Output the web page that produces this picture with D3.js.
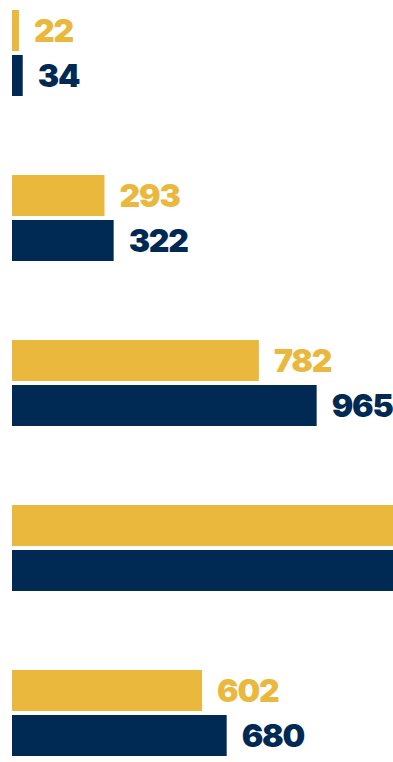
<!DOCTYPE html>
<html>
<head>
<meta charset="utf-8">
<script src="https://cdn.jsdelivr.net/npm/d3@7"></script>
<style>
  html, body { margin: 0; padding: 0; background: #fff; overflow: hidden; }
  svg { display: block; }
</style>
</head>
<body>
<svg id="chart" width="393" height="762"></svg>
<script>
// Grouped horizontal bars: two series per group, value printed at bar end
const categories = ["Group 1", "Group 2", "Group 3", "Group 4", "Group 5"];
const seriesNames = ["Series A", "Series B"];
const seriesA = [22, 293, 782, 1264, 602];
const seriesB = [34, 322, 965, 1318, 680];
const colors = ["#E9B83C", "#002A53"];

const svg = d3.select("#chart");
const W = 393, H = 762;

const x = d3.scaleLinear().domain([0, 1000]).range([12, 327.7]);

const y = d3.scaleBand()
  .domain(categories)
  .range([10, 756])
  .paddingInner(79 / 165)
  .paddingOuter(0);

const ySub = d3.scaleBand()
  .domain(seriesNames)
  .range([0, y.bandwidth()])
  .paddingInner(4 / 45);

const rows = categories.map((c, i) => ({
  category: c,
  values: [
    { series: seriesNames[0], value: seriesA[i], color: colors[0] },
    { series: seriesNames[1], value: seriesB[i], color: colors[1] }
  ]
}));

const g = svg.append("g");

const groups = g.selectAll("g.group")
  .data(rows)
  .join("g")
  .attr("class", "group")
  .attr("transform", d => `translate(0,${y(d.category)})`);

groups.selectAll("rect")
  .data(d => d.values)
  .join("rect")
  .attr("x", x(0))
  .attr("y", d => ySub(d.series))
  .attr("width", d => x(d.value) - x(0))
  .attr("height", ySub.bandwidth())
  .attr("fill", d => d.color);

// value labels only where they fit inside the frame
groups.selectAll("text")
  .data(d => d.values.filter(v => x(v.value) + 15 < W))
  .join("text")
  .attr("x", d => x(d.value) + 15)
  .attr("y", d => ySub(d.series) + ySub.bandwidth() / 2)
  .attr("dominant-baseline", "central")
  .attr("fill", d => d.color)
  .style("font-family", "Inter, Lato, sans-serif")
  .style("font-weight", 900)
  .style("font-size", "32px")
  .style("letter-spacing", "-1.2px")
  .text(d => d.value);
</script>
</body>
</html>
